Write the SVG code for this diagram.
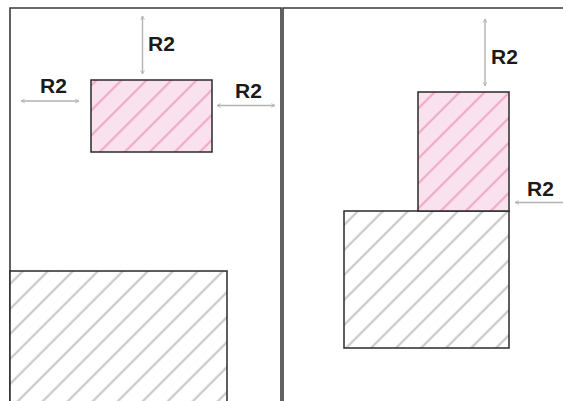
<svg xmlns="http://www.w3.org/2000/svg" width="563" height="401" viewBox="0 0 563 401">
<style>
.frame{fill:none;stroke:#3a3a3a;stroke-width:1.6}
.box{stroke:#2a2a2a;stroke-width:1.5}
.pink{fill:url(#hatchPink)}
.gray{fill:url(#hatchGray)}
.dim{stroke:#b3b3b3;stroke-width:1.4;fill:none;marker-start:url(#ah);marker-end:url(#ah)}
.lbl{font-family:"Liberation Sans",Arial,sans-serif;font-weight:bold;font-size:21px;fill:#1a1a1a}
</style>
<defs>
<marker id="ah" viewBox="0 0 8 8" refX="7" refY="4" markerWidth="5" markerHeight="5" orient="auto-start-reverse" markerUnits="userSpaceOnUse">
<path d="M1,1 L7,4 L1,7" fill="none" stroke="#b3b3b3" stroke-width="1.4"/>
</marker>
<pattern id="hatchGray" patternUnits="userSpaceOnUse" width="17.68" height="20" patternTransform="rotate(45)">
<rect width="17.68" height="20" fill="#ffffff"/>
<line x1="13.4" y1="-1" x2="13.4" y2="21" stroke="#c4c4c4" stroke-width="2"/>
</pattern>
<pattern id="hatchPink" patternUnits="userSpaceOnUse" width="17.68" height="20" patternTransform="rotate(45)">
<rect width="17.68" height="20" fill="#f9e1ee"/>
<line x1="1.2" y1="-1" x2="1.2" y2="21" stroke="#f0a6c6" stroke-width="2"/>
</pattern>
</defs>
<rect width="563" height="401" fill="#ffffff"/>
<g id="panel-left">
<path class="frame" d="M10,402 V8 H281 V402"/>
</g>
<g id="panel-right">
<path class="frame" d="M283,402 V8 H564" stroke-width="2"/>
</g>
<g id="left-pink">
<rect class="box pink" x="91" y="80" width="121" height="72"/>
</g>
<g id="left-gray">
<rect class="box gray" x="10" y="271" width="217" height="140"/>
</g>
<g id="right-gray">
<rect class="box gray" x="344" y="211" width="165" height="137"/>
</g>
<g id="right-pink">
<rect class="box pink" x="418" y="92" width="91" height="119"/>
</g>
<g id="connectors">
<line class="dim" x1="142.5" y1="16" x2="142.5" y2="74"/>
<line class="dim" x1="21" y1="101" x2="79" y2="101"/>
<line class="dim" x1="217" y1="105.5" x2="275" y2="105.5"/>
<line class="dim" x1="485" y1="19" x2="485" y2="86"/>
<line class="dim" x1="515" y1="202.5" x2="570" y2="202.5"/>
</g>
<g id="labels">
<text class="lbl" x="148" y="50.5">R2</text>
<text class="lbl" x="40" y="92.5">R2</text>
<text class="lbl" x="235" y="97.5">R2</text>
<text class="lbl" x="491" y="63.5">R2</text>
<text class="lbl" x="527" y="195.5">R2</text>
</g>
</svg>
